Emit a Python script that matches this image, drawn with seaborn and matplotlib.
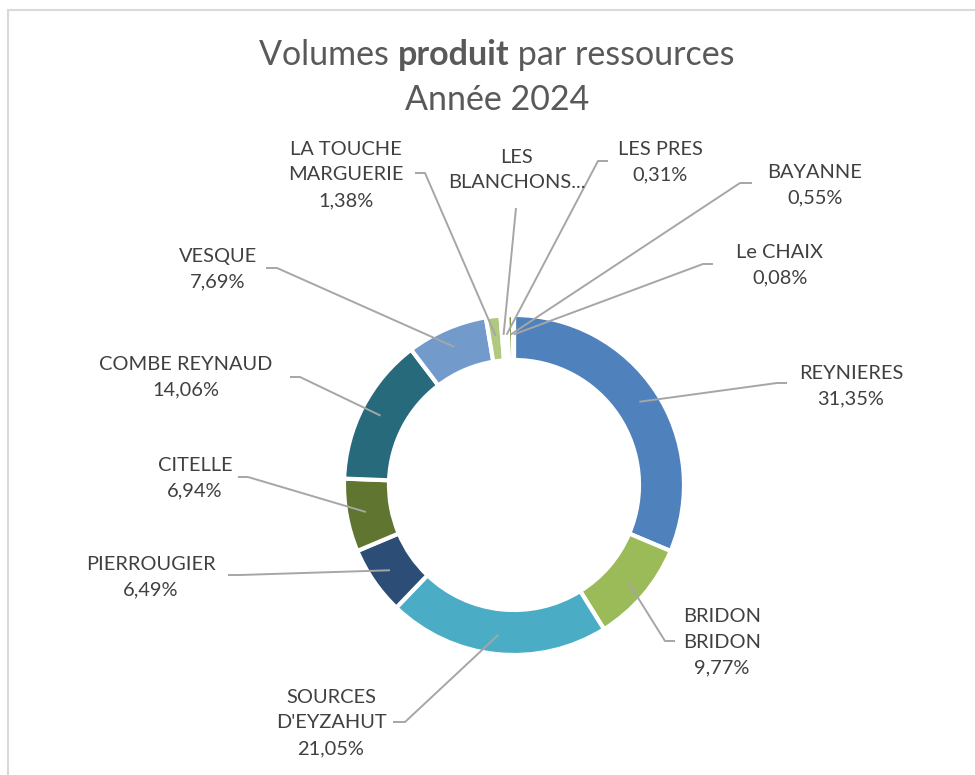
# Donut chart: share of produced volume per water resource, year 2024.
import matplotlib

matplotlib.use("Agg")
import matplotlib.pyplot as plt
import numpy as np
import seaborn as sns

resources = ["REYNIERES", "BRIDON\nBRIDON", "SOURCES\nD'EYZAHUT", "PIERROUGIER",
             "CITELLE", "COMBE REYNAUD", "VESQUE", "LA TOUCHE\nMARGUERIE",
             "LES\nBLANCHONS...", "LES PRES", "BAYANNE", "Le CHAIX"]
shares = [31.35, 9.77, 21.05, 6.49, 6.94, 14.06, 7.69, 1.38, 0.33, 0.31, 0.55, 0.08]
show_pct = [True] * 8 + [False] + [True] * 3
colors = ["#4F81BD", "#9BBB59", "#4BACC6", "#2C4D75", "#5F7530", "#276A7C",
          "#729ACA", "#AFCA7E", "#6FBDD1", "#3A679C", "#7F9A48", "#3B8DA3"]

# label layout in pixels (label centre, elbow of leader, end of leader)
label_xy = [(851, 386), (722, 642), (331, 723), (151, 577), (195, 478), (186, 377),
            (218, 269), (346, 175), (517, 170), (660, 162), (815, 185), (780, 265)]
elbow_xy = [(777, 383), (665, 641), (405, 722), (240, 575), (248, 477), (300, 377),
            (277, 268), (425, 173), (516, 208), (598, 161), (740, 183), (703, 264)]
end_xy = [(787, 383), (675, 641), (393, 722), (228, 575), (238, 477), (290, 377),
          (266, 268), (415, 173), (516, 208), (608, 161), (752, 183), (713, 264)]

W, H = 975, 775
CX, CY, R, RING = 514, 485, 170, 45

sns.set_theme(style="white")
plt.rcParams["font.family"] = ["Lato", "DejaVu Sans"]

fig = plt.figure(figsize=(W / 100, H / 100), dpi=100)
ax = fig.add_axes([0, 0, 1, 1])
ax.pie(shares, colors=colors, startangle=90, counterclock=False, radius=R,
       center=(CX, H - CY),
       wedgeprops=dict(width=RING, edgecolor="white", linewidth=3))
ax.set_xlim(0, W)
ax.set_ylim(0, H)
ax.set_aspect("equal")
ax.axis("off")

# leader lines + labels
total = sum(shares)
cum = np.cumsum(shares)
for i, name in enumerate(resources):
    mid = np.deg2rad(360 * (cum[i] - shares[i] / 2) / total)
    r_anchor = R - RING / 2 + 3
    axp = CX + r_anchor * np.sin(mid)
    ayp = CY - r_anchor * np.cos(mid)
    xs = [axp, elbow_xy[i][0], end_xy[i][0]]
    ys = [H - ayp, H - elbow_xy[i][1], H - end_xy[i][1]]
    ax.plot(xs, ys, color="#A6A6A6", lw=1.4, solid_capstyle="butt")
    txt = name
    if show_pct[i]:
        txt += "\n" + f"{shares[i]:.2f}%".replace(".", ",")
    ax.text(label_xy[i][0], H - label_xy[i][1], txt, ha="center", va="center",
            fontsize=14.4, color="#404040", linespacing=1.6)

# title with a bold word
parts = [("Volumes ", "normal"), ("produit", "bold"), (" par ressources", "normal")]
texts = [ax.text(0, H - 55, s, fontsize=24.5, fontweight=w, color="#595959",
                 ha="left", va="center") for s, w in parts]
renderer = fig.canvas.get_renderer()
widths = [t.get_window_extent(renderer).width for t in texts]
x0 = 497 - sum(widths) / 2
for t, w in zip(texts, widths):
    t.set_x(x0)
    x0 += w
ax.text(497, H - 100, "Année 2024", fontsize=24.5, color="#595959", ha="center", va="center")

# chart-area border (top and left edges visible)
ax.plot([8, W], [H - 10, H - 10], color="#D9D9D9", lw=1.5, clip_on=False)
ax.plot([8, 8], [H - 10, 0], color="#D9D9D9", lw=1.5, clip_on=False)

fig.savefig("out.png", dpi=100)
